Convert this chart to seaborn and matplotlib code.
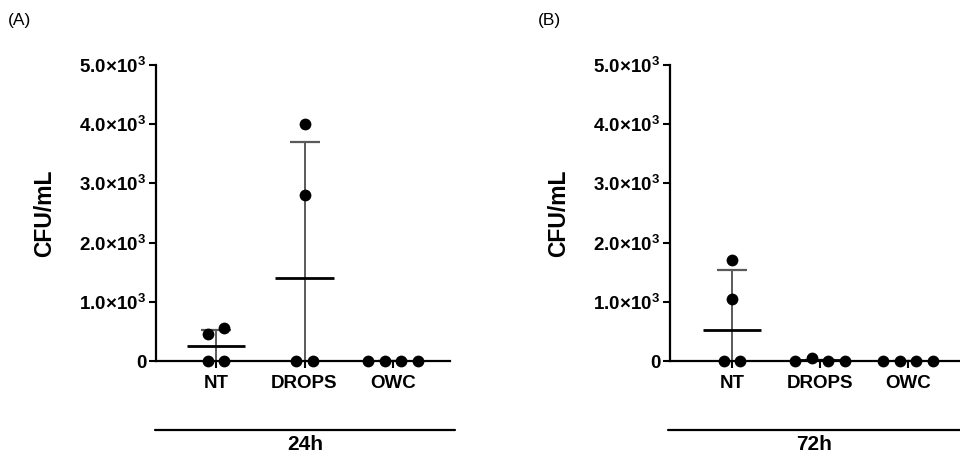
import numpy as np
import pandas as pd
import matplotlib
matplotlib.use("Agg")
import matplotlib.pyplot as plt
import seaborn as sns

# values (CFU/mL)
groups = ["NT", "DROPS", "OWC"]
cfu_24h_nt = [450, 0, 550, 0]
cfu_24h_drops = [0, 2800, 4000, 0]
cfu_24h_owc = [0, 0, 0, 0]
cfu_72h_nt = [0, 1050, 1700, 0]
cfu_72h_drops = [0, 50, 0, 0]
cfu_72h_owc = [0, 0, 0, 0]

# mean lines and SD bars as drawn in the reference
mean_24h = [250, 1400, 0]
sd_24h = [280, 2300, 0]
mean_72h = [520, 10, 0]
sd_72h = [1010, 0, 0]

yticks = [0, 1000, 2000, 3000, 4000, 5000]
ytick_labels = ["0"] + [f"{v / 1000:.1f}×10$^{{3}}$" for v in yticks[1:]]

sns.set_style("ticks")
plt.rcParams["font.family"] = ["Liberation Sans", "DejaVu Sans"]
plt.rcParams["font.weight"] = "bold"
plt.rcParams["mathtext.fontset"] = "custom"
plt.rcParams["mathtext.default"] = "bf"
plt.rcParams["mathtext.bf"] = "Liberation Sans:bold"
plt.rcParams["mathtext.rm"] = "Liberation Sans:bold"
for k in ["text.color", "axes.labelcolor", "xtick.color", "ytick.color"]:
    plt.rcParams[k] = "black"

fig = plt.figure(figsize=(9.6, 4.57), dpi=100)
W, H = 960, 457
SPREAD = 0.19  # side-by-side spacing of dots that would overlap


def make_df(nt, drops, owc):
    rows = []
    for i, (g, vals) in enumerate(zip(groups, [nt, drops, owc])):
        # dots closer than ~a marker in y sit side by side, centred on the group
        order = np.argsort(vals, kind="stable")
        clusters, cur = [], [order[0]]
        for a, b in zip(order[:-1], order[1:]):
            if vals[b] - vals[a] < 150:
                cur.append(b)
            else:
                clusters.append(cur)
                cur = [b]
        clusters.append(cur)
        for cl in clusters:
            cl = sorted(cl)
            for r, j in enumerate(cl):
                rows.append({"group": g, "x": i + (r - (len(cl) - 1) / 2) * SPREAD,
                             "cfu": vals[j]})
    return pd.DataFrame(rows)


panels = [
    dict(box=(156, 450), centers=(216, 393), df=make_df(cfu_24h_nt, cfu_24h_drops, cfu_24h_owc),
         mean=mean_24h, sd=sd_24h, time="24h", tag="(A)", tag_x=8, line=(155, 455)),
    dict(box=(670, 960), centers=(732, 908), df=make_df(cfu_72h_nt, cfu_72h_drops, cfu_72h_owc),
         mean=mean_72h, sd=sd_72h, time="72h", tag="(B)", tag_x=538, line=(668, 960)),
]

y0_px, y1_px = 361, 65

for p in panels:
    x0, x1 = p["box"]
    ax = fig.add_axes([x0 / W, 1 - y0_px / H, (x1 - x0) / W, (y0_px - y1_px) / H])
    c0, c2 = p["centers"]
    step = (c2 - c0) / 2

    xs = np.arange(len(groups))
    ax.errorbar(xs, p["mean"], yerr=p["sd"], fmt="none", ecolor="#5a5a5a",
                elinewidth=1.4, capsize=10.5, capthick=1.6, zorder=2)
    ax.errorbar(xs, p["mean"], fmt="none", xerr=0.33, ecolor="black",
                elinewidth=2.0, capsize=0, zorder=3)

    sns.scatterplot(data=p["df"], x="x", y="cfu", color="black", s=72,
                    linewidth=0, ax=ax, zorder=4, clip_on=False, legend=False)

    ax.set_xlim((x0 - c0) / step, (x1 - c0) / step)
    ax.set_ylim(0, 5000)
    ax.set_xticks(xs)
    ax.set_xticklabels(groups)
    ax.set_yticks(yticks)
    ax.set_yticklabels(ytick_labels)
    ax.set_xlabel("")
    ax.set_ylabel("CFU/mL", fontsize=16.5, fontweight="bold")
    ax.yaxis.set_label_coords(-100 / (x1 - x0), 0.5)
    for s in ["top", "right"]:
        ax.spines[s].set_visible(False)
    for s in ["left", "bottom"]:
        ax.spines[s].set_linewidth(1.6)
        ax.spines[s].set_color("black")
    ax.tick_params(axis="y", length=5, width=1.5, pad=2, labelsize=13.5)
    ax.tick_params(axis="x", length=5, width=1.5, pad=5, labelsize=13.5)
    for lab in ax.get_xticklabels() + ax.get_yticklabels():
        lab.set_fontweight("bold")

    lx0, lx1 = p["line"]
    fig.add_artist(plt.Line2D([lx0 / W, lx1 / W], [1 - 430 / H, 1 - 430 / H],
                              color="black", lw=1.6))
    fig.text(((lx0 + lx1) / 2) / W, 1 - 445 / H, p["time"], ha="center", va="center",
             fontsize=15, fontweight="bold")
    fig.text(p["tag_x"] / W, 1 - 21 / H, p["tag"], ha="left", va="center",
             fontsize=12.5, fontweight="normal")

fig.savefig("out.png", dpi=100)
